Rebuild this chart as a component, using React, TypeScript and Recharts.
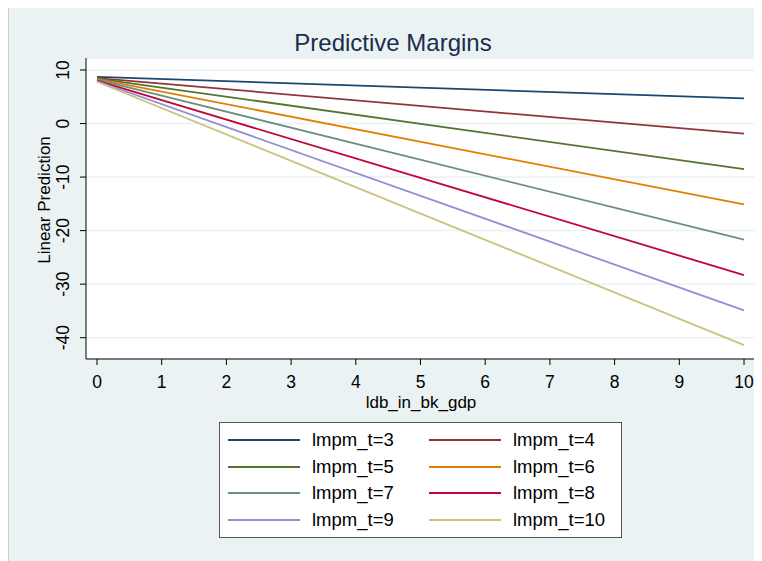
import React from "react";
import { CartesianGrid, Line, LineChart, XAxis, YAxis } from "recharts";

// predictive margins at ldb_in_bk_gdp = 0 and 10, one entry per lmpm_t level
const seriesNames = [
    "lmpm_t=3",
    "lmpm_t=4",
    "lmpm_t=5",
    "lmpm_t=6",
    "lmpm_t=7",
    "lmpm_t=8",
    "lmpm_t=9",
    "lmpm_t=10",
];
const seriesColors = [
    "#1a476f",
    "#90353b",
    "#55752f",
    "#e37e00",
    "#6e8e84",
    "#c10534",
    "#938dd2",
    "#cac27e",
];
const xPoints = [0, 10];
const startValues = [8.7, 8.5, 8.4, 8.3, 8.2, 8.0, 7.9, 7.8];
const endValues = [4.7, -1.9, -8.5, -15.1, -21.7, -28.3, -34.9, -41.4];

const xTicks = [0, 1, 2, 3, 4, 5, 6, 7, 8, 9, 10];
const yTicks = [-40, -30, -20, -10, 0, 10];

const W = 754;
const H = 553;
const FONT = "'Liberation Sans', Arial, sans-serif";

const data = xPoints.map((x, i) => {
    const row: Record<string, number> = { x };
    seriesNames.forEach((name, s) => {
        row[name] = i === 0 ? startValues[s] : endValues[s];
    });
    return row;
});

const YTick = (props: any) => {
    const { x, y, payload } = props;
    const bx = x - 9;
    return (
        <text
            x={bx}
            y={y}
            transform={`rotate(-90, ${bx}, ${y})`}
            textAnchor="middle"
            fontSize={17.5}
            fill="#000"
        >
            {payload.value}
        </text>
    );
};

const YTitle = () => (
    <text
        x={42}
        y={192}
        transform="rotate(-90, 42, 192)"
        textAnchor="middle"
        fontSize={17}
        fill="#000"
    >
        Linear Prediction
    </text>
);

const XTitle = () => (
    <text x={413} y={400} textAnchor="middle" fontSize={17} fill="#000">
        ldb_in_bk_gdp
    </text>
);

export default function App() {
    return (
        <div
            style={{
                position: "relative",
                width: W,
                height: H,
                background: "#eaf2f3",
                borderLeft: "1px solid #c9cccd",
                boxSizing: "border-box",
                fontFamily: FONT,
            }}
        >
            <div
                style={{
                    position: "absolute",
                    left: 0,
                    top: 21,
                    width: 768,
                    textAlign: "center",
                    fontSize: 24,
                    color: "#1c2d4a",
                    lineHeight: "28px",
                }}
            >
                Predictive Margins
            </div>
            <div style={{ position: "absolute", left: -1, top: 0 }}>
                <LineChart
                    width={W}
                    height={H}
                    data={data}
                    margin={{ top: 50, right: 6, left: 0, bottom: 142 }}
                >
                    <CartesianGrid
                        vertical={false}
                        fill="#ffffff"
                        stroke="#eaf2f3"
                        strokeWidth={1.5}
                    />
                    <XAxis
                        dataKey="x"
                        type="number"
                        domain={[-0.17, 10.185]}
                        ticks={xTicks}
                        allowDataOverflow
                        height={60}
                        tickSize={6}
                        tickMargin={11}
                        stroke="#000"
                        tick={{ fill: "#000", fontSize: 17.5 }}
                        label={{ content: XTitle }}
                    />
                    <YAxis
                        type="number"
                        domain={[-43.98, 12.24]}
                        ticks={yTicks}
                        allowDataOverflow
                        width={78}
                        tickSize={6}
                        stroke="#000"
                        tick={YTick}
                        label={{ content: YTitle }}
                    />
                    {seriesNames.map((name, i) => (
                        <Line
                            key={name}
                            dataKey={name}
                            name={name}
                            type="linear"
                            stroke={seriesColors[i]}
                            strokeWidth={1.8}
                            dot={false}
                            activeDot={false}
                            isAnimationActive={false}
                        />
                    ))}
                </LineChart>
            </div>
            <div
                style={{
                    position: "absolute",
                    left: 210,
                    top: 414,
                    width: 403,
                    height: 116,
                    background: "#fff",
                    border: "1px solid #555",
                    boxSizing: "border-box",
                }}
            >
                {seriesNames.map((name, i) => {
                    const col = i % 2;
                    const row = Math.floor(i / 2);
                    return (
                        <div
                            key={name}
                            style={{
                                position: "absolute",
                                left: 8 + col * 201,
                                top: 4 + row * 26.7,
                                height: 26,
                                display: "flex",
                                alignItems: "center",
                                fontSize: 18.5,
                                color: "#000",
                                whiteSpace: "nowrap",
                            }}
                        >
                            <svg width={72} height={4} style={{ marginRight: 12 }}>
                                <line
                                    x1={0}
                                    y1={2}
                                    x2={72}
                                    y2={2}
                                    stroke={seriesColors[i]}
                                    strokeWidth={1.8}
                                />
                            </svg>
                            {name}
                        </div>
                    );
                })}
            </div>
        </div>
    );
}
